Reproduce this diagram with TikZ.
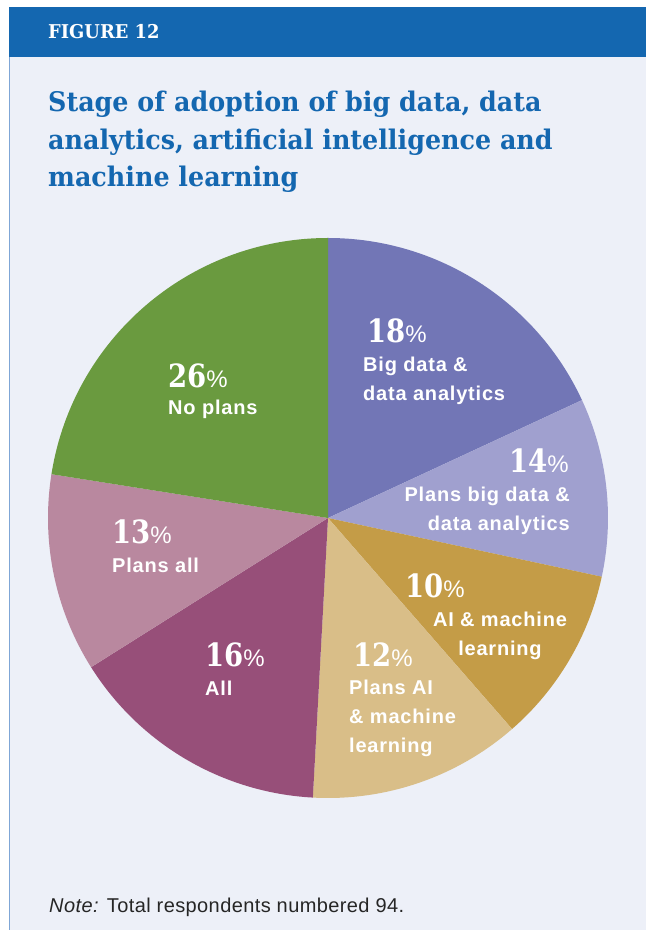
\documentclass[tikz,border=0pt]{standalone}
\usepackage{fontspec}
\setmainfont{Liberation Sans}
\newfontfamily\slabfont[FakeStretch=0.94]{DejaVu Serif}
\newfontfamily\numfont[FakeStretch=0.86]{DejaVu Serif}
\newfontfamily\lblfont[LetterSpace=4]{Liberation Sans}
\newfontfamily\notefont[LetterSpace=2]{Liberation Sans}
\usepackage{tikz}
\usetikzlibrary{positioning}

\definecolor{figblue}{HTML}{1467B0}
\definecolor{panel}{HTML}{EDF0F8}
\definecolor{edgeblue}{HTML}{7FA6D6}
\definecolor{bigdata}{HTML}{7276B6}
\definecolor{plansbig}{HTML}{A0A0CF}
\definecolor{aiml}{HTML}{C49C47}
\definecolor{plansai}{HTML}{D9BE88}
\definecolor{allc}{HTML}{974F79}
\definecolor{plansall}{HTML}{B9889F}
\definecolor{noplans}{HTML}{6A9A3F}

\newcommand{\pctval}[1]{{\numfont\bfseries\fontsize{32}{32}\selectfont #1}{\fontsize{24}{24}\selectfont\%}}

\begin{document}
\begin{tikzpicture}[x=1pt,y=1pt,
    pct/.style={text=white,inner sep=0pt,anchor=base west},
    lbl/.style={text=white,inner sep=0pt,anchor=base west,align=left,
        font=\lblfont\bfseries\fontsize{20}{29}\selectfont}]

        \useasboundingbox (0,0) rectangle (646,930);

        % panel and header
        \fill[panel] (9,0) rectangle (646,873);
        \draw[edgeblue,line width=1] (9,0) -- (9,873);
        \fill[figblue] (9,873) rectangle (646,923);
        \node[anchor=base west,inner sep=0pt,text=white,font=\slabfont\bfseries\fontsize{19}{19}\selectfont] (fig) at (48,891) {FIGURE 12};
        % base of a multi-line node = its last line
        \node[anchor=base west,inner sep=0pt,align=left,text=figblue,font=\slabfont\bfseries\fontsize{27}{37.5}\selectfont] (title) at (48,743)
            {Stage of adoption of big data, data\\analytics, artificial intelligence and\\machine learning};

        \coordinate (ctr) at (328,412);

        \fill[bigdata] (ctr) -- ++(90:280) arc[start angle=90,end angle=24.9,radius=280pt] -- cycle;
        \fill[plansbig] (ctr) -- ++(24.9:280) arc[start angle=24.9,end angle=-12.1,radius=280pt] -- cycle;
        \fill[aiml] (ctr) -- ++(-12.1:280) arc[start angle=-12.1,end angle=-48.9,radius=280pt] -- cycle;
        \fill[plansai] (ctr) -- ++(-48.9:280) arc[start angle=-48.9,end angle=-93.1,radius=280pt] -- cycle;
        \fill[allc] (ctr) -- ++(-93.1:280) arc[start angle=-93.1,end angle=-147.8,radius=280pt] -- cycle;
        \fill[plansall] (ctr) -- ++(-147.8:280) arc[start angle=-147.8,end angle=-189,radius=280pt] -- cycle;
        \fill[noplans] (ctr) -- ++(-189:280) arc[start angle=-189,end angle=-270,radius=280pt] -- cycle;

        \node[pct] (p18) at (367,587) {\pctval{18}};
        \node[lbl] (l18) at (363,529) {Big data \&\\data analytics};

        \node[pct,anchor=base east] (p14) at (569,457) {\pctval{14}};
        \node[lbl,anchor=base east,align=right] (l14) at (570,399) {Plans big data \&\\data analytics};

        \node[pct] (p10) at (405,332) {\pctval{10}};
        \node[lbl,anchor=base,align=center] (l10) at (500,274) {AI \& machine\\learning};

        \node[pct] (p12) at (353,263) {\pctval{12}};
        \node[lbl] (l12) at (349,177) {Plans AI\\\& machine\\learning};

        \node[pct] (p16) at (205,263) {\pctval{16}};
        \node[lbl] (l16) at (205,234) {All};

        \node[pct] (p13) at (112,386) {\pctval{13}};
        \node[lbl] (l13) at (112,357) {Plans all};

        \node[pct] (p26) at (168,542) {\pctval{26}};
        \node[lbl] (l26) at (168,515) {No plans};

        \node[anchor=base west,inner sep=0pt,text=black!85,font=\notefont\fontsize{20}{20}\selectfont] (note) at (49,17) {\textit{Note:} Total respondents numbered 94.};
    \end{tikzpicture}
\end{document}
